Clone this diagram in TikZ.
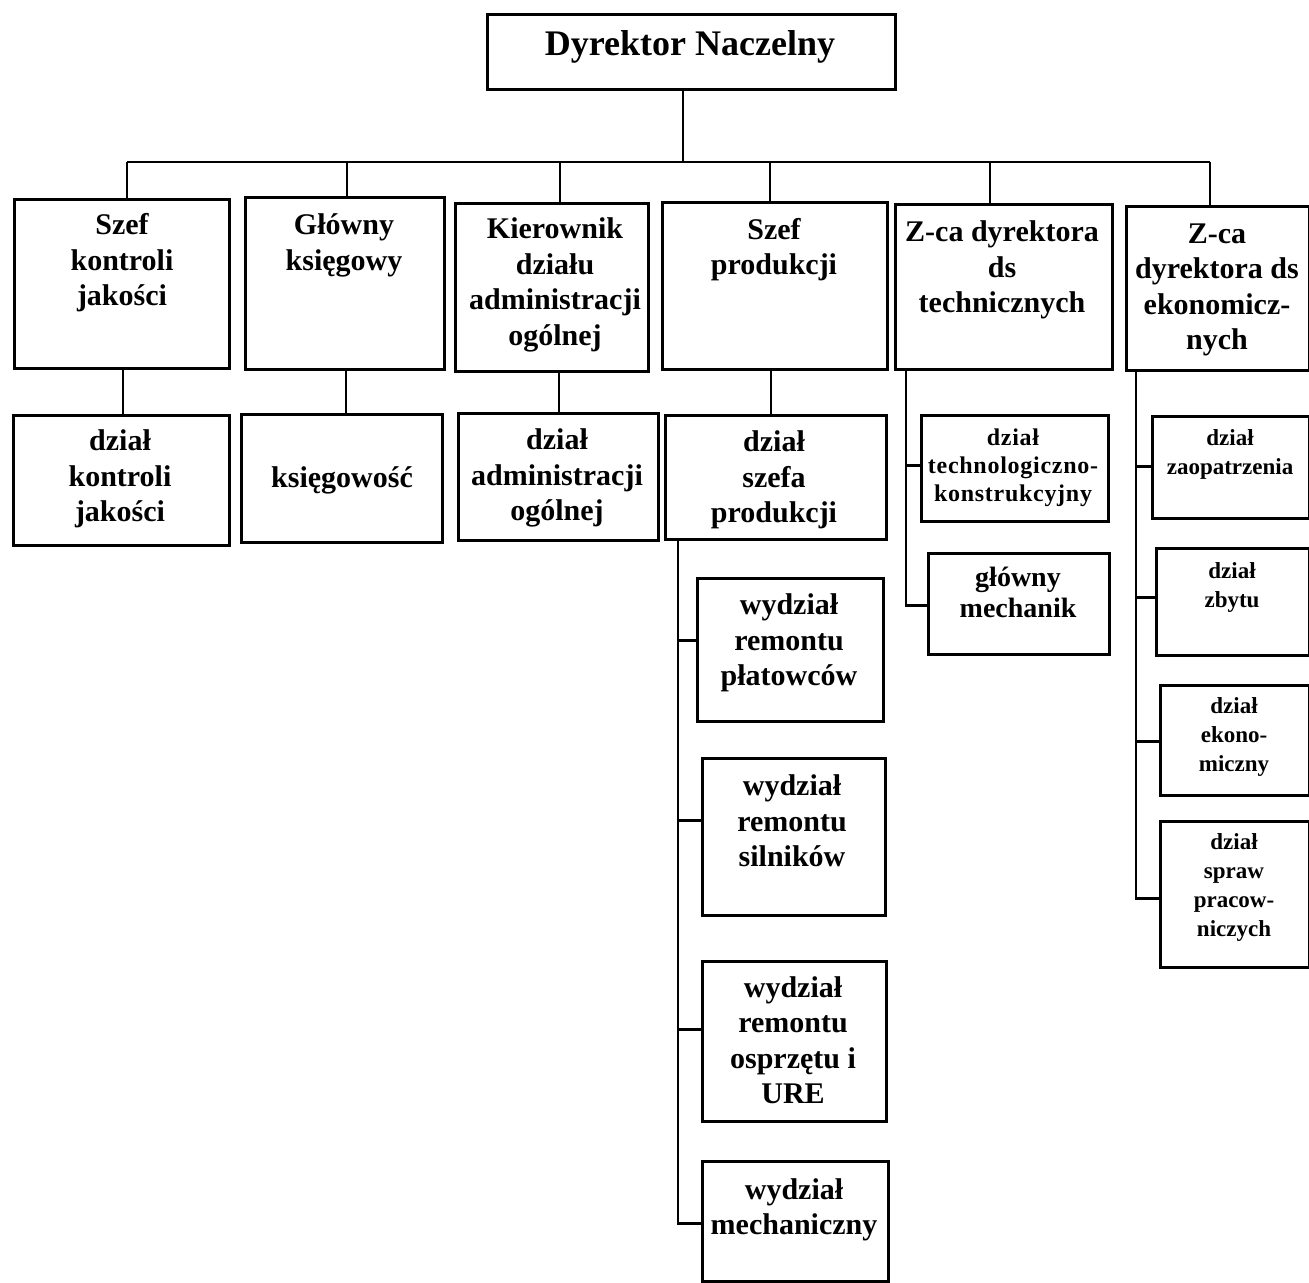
\documentclass[tikz,border=0pt]{standalone}
\usepackage{fontspec}
\setmainfont{Liberation Serif}
\newfontfamily\techfam{Liberation Serif}[LetterSpace=3]
\newcommand\fbig{\fontsize{18}{20}\selectfont\bfseries}
\newcommand\fmain{\fontsize{15}{17.75}\selectfont\bfseries}
\newcommand\fmech{\fontsize{14}{15.5}\selectfont\bfseries}
\newcommand\ftech{\techfam\fontsize{12}{14}\selectfont\bfseries}
\newcommand\fsmall{\fontsize{11.5}{14.5}\selectfont\bfseries}
\tikzset{
  box/.style={draw, line width=1.3pt, inner sep=0pt, anchor=north west},
  lbl/.style={align=center, inner sep=0pt,
    execute at begin node={\strut}, execute at end node={\strut}},
  link/.style={line width=1.3pt}
}
\begin{document}
\begin{tikzpicture}[x=0.5pt, y=-0.5pt]
\useasboundingbox (0,0) rectangle (1309,1282);

% director
\node[box, minimum width=204pt, minimum height=37.5pt] (dn) at (486,13) {};
\node[lbl, font=\fbig] (dnt) at (690,47) {Dyrektor Naczelny};

% first level
\node[box, minimum width=107.5pt, minimum height=84.5pt] (b1) at (13,198) {};
\node[box, minimum width=99.5pt,  minimum height=86pt]   (b2) at (244,196) {};
\node[box, minimum width=96.5pt,  minimum height=84pt]   (b3) at (454,202) {};
\node[box, minimum width=112.5pt, minimum height=83.5pt] (b4) at (661,201) {};
\node[box, minimum width=108.5pt, minimum height=82.5pt] (b5) at (894,203) {};
\node[box, minimum width=91.5pt,  minimum height=82pt]   (b6) at (1125,205) {};
\node[lbl, font=\fmain] (b1t) at (122,265)  {Szef\\kontroli\\jakości};
\node[lbl, font=\fmain] (b2t) at (344,247.5) {Główny\\księgowy};
\node[lbl, font=\fmain] (b3t) at (555,287)  {Kierownik\\działu\\administracji\\ogólnej};
\node[lbl, font=\fmain] (b4t) at (774,251.5) {Szef\\produkcji};
\node[lbl, font=\fmain] (b5t) at (1002,272) {Z-ca dyrektora\\ds\\technicznych};
\node[lbl, font=\fmain] (b6t) at (1217,292) {Z-ca\\dyrektora ds\\ekonomicz-\\nych};

% second level
\node[box, minimum width=108pt,   minimum height=65pt]   (c1) at (12,414) {};
\node[box, minimum width=100.5pt, minimum height=64pt]   (c2) at (240,413) {};
\node[box, minimum width=100pt,   minimum height=63.5pt] (c3) at (457,412) {};
\node[box, minimum width=110.5pt, minimum height=62pt]   (c4) at (664,414) {};
\node[lbl, font=\fmain] (c1t) at (120,481) {dział\\kontroli\\jakości};
\node[lbl, font=\fmain] (c2t) at (342,480) {księgowość};
\node[lbl, font=\fmain] (c3t) at (557,480) {dział\\administracji\\ogólnej};
\node[lbl, font=\fmain] (c4t) at (774,482) {dział\\szefa\\produkcji};

% production departments
\node[box, minimum width=93pt,   minimum height=71.5pt] (p1) at (696,577) {};
\node[box, minimum width=91.5pt, minimum height=78.5pt] (p2) at (701,757) {};
\node[box, minimum width=92pt,   minimum height=80pt]   (p3) at (701,960) {};
\node[box, minimum width=93pt,   minimum height=60pt]   (p4) at (701,1160) {};
\node[lbl, font=\fmain] (p1t) at (789,645)  {wydział\\remontu\\płatowców};
\node[lbl, font=\fmain] (p2t) at (792,826)  {wydział\\remontu\\silników};
\node[lbl, font=\fmain] (p3t) at (793,1045.5) {wydział\\remontu\\osprzętu i\\URE};
\node[lbl, font=\fmain] (p4t) at (794,1212) {wydział\\mechaniczny};

% technical departments
\node[box, minimum width=93.5pt, minimum height=53pt]   (t1) at (920,414) {};
\node[box, minimum width=90.5pt, minimum height=50.5pt] (t2) at (927,552) {};
\node[lbl, font=\ftech] (t1t) at (1013,469)  {dział\\technologiczno-\\konstrukcyjny};
\node[lbl, font=\fmech] (t2t) at (1018,597) {główny\\mechanik};

% economic departments
\node[box, minimum width=78.5pt, minimum height=51pt]   (e1) at (1151,415) {};
\node[box, minimum width=76.5pt, minimum height=53.5pt] (e2) at (1155,547) {};
\node[box, minimum width=74.5pt, minimum height=55pt]   (e3) at (1159,684) {};
\node[box, minimum width=74.5pt, minimum height=73pt]   (e4) at (1159,820) {};
\node[lbl, font=\fsmall] (e1t) at (1230,456) {dział\\zaopatrzenia};
\node[lbl, font=\fsmall] (e2t) at (1232,589) {dział\\zbytu};
\node[lbl, font=\fsmall] (e3t) at (1234,739) {dział\\ekono-\\miczny};
\node[lbl, font=\fsmall] (e4t) at (1234,889)   {dział\\spraw\\pracow-\\niczych};

% bus and drop points
\coordinate (dtop) at (683,162);
\coordinate (d1) at (127,162);
\coordinate (d2) at (347,162);
\coordinate (d3) at (560,162);
\coordinate (d4) at (770,162);
\coordinate (d5) at (990,162);
\coordinate (d6) at (1210,162);
\coordinate (v1) at (123,0);
\coordinate (v2) at (346,0);
\coordinate (v3) at (559,0);
\coordinate (v4) at (771,0);
\coordinate (tp) at (678,0);
\coordinate (tt) at (906,0);
\coordinate (te) at (1136,0);

\draw[link] (dn.south -| dtop) -- (dtop);
\draw[link] (d1) -- (d6);
\foreach \i in {1,...,6} \draw[link] (d\i) -- (d\i |- b\i.north);
\foreach \i in {1,...,4} \draw[link] (b\i.south -| v\i) -- (c\i.north -| v\i);

% production trunk
\draw[link] (c4.south -| tp) |- ([yshift=-1pt]p4.west);
\draw[link] ([yshift=4.75pt]p1.west) -- ([yshift=4.75pt]p1.west -| tp);
\draw[link] ([yshift=8.25pt]p2.west) -- ([yshift=8.25pt]p2.west -| tp);
\draw[link] ([yshift=6pt]p3.west)    -- ([yshift=6pt]p3.west -| tp);

% technical trunk
\draw[link] (b5.south -| tt) |- ([yshift=-0.75pt]t2.west);
\draw[link] ([yshift=1.5pt]t1.west) -- ([yshift=1.5pt]t1.west -| tt);

% economic trunk
\draw[link] (b6.south -| te) |- ([yshift=-2pt]e4.west);
\draw[link] ([yshift=0.5pt]e1.west)  -- ([yshift=0.5pt]e1.west -| te);
\draw[link] ([yshift=2.25pt]e2.west) -- ([yshift=2.25pt]e2.west -| te);
\draw[link] ([yshift=-0.5pt]e3.west) -- ([yshift=-0.5pt]e3.west -| te);
\end{tikzpicture}
\end{document}
